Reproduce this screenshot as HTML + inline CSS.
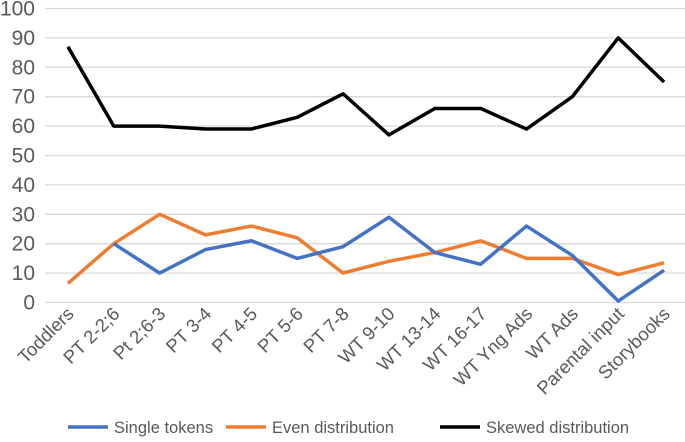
<!DOCTYPE html>
<html><head><meta charset="utf-8"><style>
body{margin:0;background:#fff;width:685px;height:437px;overflow:hidden;font-family:"Liberation Sans",sans-serif}
</style></head><body>
<svg id="chart" width="685" height="437" xmlns="http://www.w3.org/2000/svg" font-family="Liberation Sans, sans-serif"></svg>
<script>
const categories=["Toddlers","PT 2-2;6","Pt 2;6-3","PT 3-4","PT 4-5","PT 5-6","PT 7-8","WT 9-10","WT 13-14","WT 16-17","WT Yng Ads","WT Ads","Parental input","Storybooks"];
const singleTokens=[null,20,10,18,21,15,19,29,17,13,26,16,0.5,11];
const evenDist=[6.5,20,30,23,26,22,10,14,17,21,15,15,9.5,13.5];
const skewedDist=[87,60,60,59,59,63,71,57,66,66,59,70,90,75];
const yTicks=[0,10,20,30,40,50,60,70,80,90,100];
const svg=document.getElementById('chart');
const NS="http://www.w3.org/2000/svg";
const x0=45,x1=687,y0=302.5,y1=8.5;
const band=(x1-x0)/categories.length;
const xs=i=>x0+band*(i+0.5);
const ys=v=>y0-(v/100)*(y0-y1);
function mk(t,a){const e=document.createElementNS(NS,t);for(const k in a)e.setAttribute(k,a[k]);svg.appendChild(e);return e;}
yTicks.forEach(v=>{
 const g=mk('line',{x1:x0,x2:x1,y1:ys(v),y2:ys(v),stroke:'#d9d9d9','stroke-width':1.3});
 
 
 const t=mk('text',{x:35,y:ys(v)+7,'text-anchor':'end','font-size':21,fill:'#595959'});
 t.textContent=v;
 
 
});
categories.forEach((c,i)=>{
 const x=xs(i)+7,y=315;
 const t=mk('text',{x:x,y:y,'text-anchor':'end','font-size':18.5,fill:'#595959',transform:`rotate(-45 ${x} ${y})`});
 t.textContent=c;
 
 
});
function series(arr,color,name){
 let d='';let started=false;
 arr.forEach((v,i)=>{if(v==null)return;d+=(started?'L':'M')+xs(i)+' '+ys(v)+' ';started=true;});
 const p=mk('path',{d:d,fill:'none',stroke:color,'stroke-width':3.5,'stroke-linejoin':'round'});
 
 
}
series(evenDist,'#ed7d31','series-even-distribution');
series(singleTokens,'#4472c4','series-single-tokens');
series(skewedDist,'#000000','series-skewed-distribution');
[["Single tokens","#4472c4",68],["Even distribution","#ed7d31",226],["Skewed distribution","#000",440]].forEach(([n,c,x])=>{
 const l=mk('line',{x1:x,x2:x+40,y1:427,y2:427,stroke:c,'stroke-width':3.5});
 
 
 const t=mk('text',{x:x+46,y:433,'font-size':16.5,fill:'#595959'});
 t.textContent=n;
 
 
});
</script>
</body></html>
